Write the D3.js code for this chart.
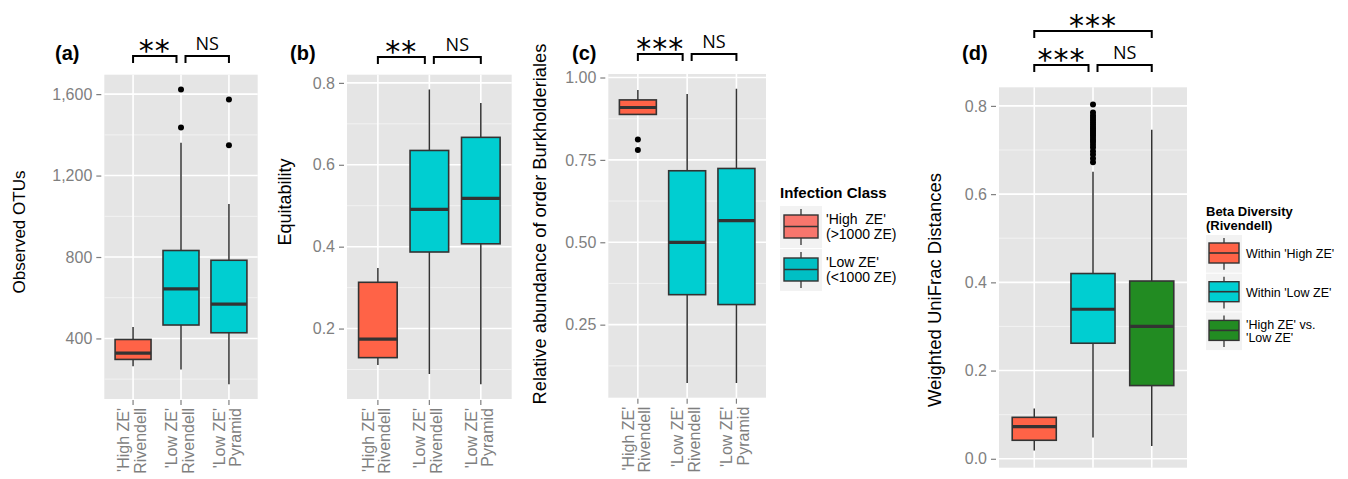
<!doctype html>
<html>
<head>
<meta charset="utf-8">
<script src="https://cdn.jsdelivr.net/npm/d3@7"></script>
<style>
  body { margin: 0; background: #fff; }
  svg { display: block; font-family: "Liberation Sans", Arial, sans-serif; }
</style>
</head>
<body>
<svg id="chart" width="1348" height="479"></svg>
<script>
// categories
const sites = [["'High ZE'", "Rivendell"], ["'Low ZE'", "Rivendell"], ["'Low ZE'", "Pyramid"]];
const siteClass = ["high", "low", "low"];
const betaClass = ["high", "low", "cross"];

// box stats: [lower whisker, Q1, median, Q3, upper whisker]
const otuBoxes = [[264, 297, 328, 395, 456], [247, 466, 643, 832, 1361], [175, 428, 569, 784, 1060]];
const otuOutliers = [[], [1436, 1623], [1349, 1574]];
const otuTicks = [400, 800, 1200, 1600];

const equitBoxes = [[0.111, 0.129, 0.174, 0.313, 0.348], [0.089, 0.387, 0.491, 0.635, 0.784], [0.064, 0.407, 0.518, 0.667, 0.751]];
const equitOutliers = [[], [], []];
const equitTicks = [0.2, 0.4, 0.6, 0.8];

const burkBoxes = [[0.887, 0.888, 0.909, 0.932, 0.962], [0.073, 0.341, 0.500, 0.717, 0.950], [0.073, 0.311, 0.566, 0.724, 0.966]];
const burkOutliers = [[0.780, 0.812], [], []];
const burkTicks = [0.25, 0.50, 0.75, 1.00];

const unifracBoxes = [[0.019, 0.042, 0.073, 0.094, 0.114], [0.048, 0.262, 0.339, 0.420, 0.651], [0.029, 0.166, 0.300, 0.403, 0.746]];
const unifracOutliers = [[], [0.672, 0.681, 0.690, 0.697, 0.706, 0.712, 0.718, 0.723, 0.728, 0.733, 0.737, 0.741,
  0.745, 0.749, 0.753, 0.758, 0.763, 0.768, 0.773, 0.778, 0.785, 0.803], []];
const unifracTicks = [0.0, 0.2, 0.4, 0.6, 0.8];

// significance labels
const sigA = [{i: 0, j: 1, text: "**"}, {i: 1, j: 2, text: "NS"}];
const sigB = [{i: 0, j: 1, text: "**"}, {i: 1, j: 2, text: "NS"}];
const sigC = [{i: 0, j: 1, text: "***"}, {i: 1, j: 2, text: "NS"}];
const sigD = [{i: 0, j: 1, text: "***"}, {i: 1, j: 2, text: "NS"}, {i: 0, j: 2, text: "***", upper: true}];

// legends
const infectionLabels = [["'High  ZE'", "(>1000 ZE)"], ["'Low ZE'", "(<1000 ZE)"]];
const infectionColors = ["#F8766D", "#00BFC4"];
const betaLabels = [["Within 'High ZE'"], ["Within 'Low ZE'"], ["'High ZE' vs.", "'Low ZE'"]];

const fill = {high: "#FF6347", low: "#00CED1", cross: "#228B22"};

const panels = [
  {tag: "(a)", title: "Observed OTUs", titleSize: 17, boxes: otuBoxes, outliers: otuOutliers, cls: siteClass,
   ticks: otuTicks, fmt: d3.format(","), labels: sites, sig: sigA,
   x0: 104.3, x1: 257.7, y0: 74.7, y1: 399, titleX: 19, titleY: 232, tagX: 55, bracketY: 56},
  {tag: "(b)", title: "Equitability", titleSize: 18, boxes: equitBoxes, outliers: equitOutliers, cls: siteClass,
   ticks: equitTicks, fmt: d3.format(".1f"), labels: sites, sig: sigB,
   x0: 347, x1: 511.7, y0: 74.7, y1: 399, titleX: 285, titleY: 202, tagX: 290, bracketY: 57},
  {tag: "(c)", title: "Relative abundance of order Burkholderiales", titleSize: 18.3, boxes: burkBoxes, outliers: burkOutliers, cls: siteClass,
   ticks: burkTicks, fmt: d3.format(".2f"), labels: sites, sig: sigC,
   x0: 608.3, x1: 766, y0: 74, y1: 397.7, titleX: 539, titleY: 224, tagX: 572, bracketY: 54},
  {tag: "(d)", title: "Weighted UniFrac Distances", titleSize: 18.5, boxes: unifracBoxes, outliers: unifracOutliers, cls: betaClass,
   ticks: unifracTicks, fmt: d3.format(".1f"), labels: null, sig: sigD,
   x0: 999, x1: 1187, y0: 87.3, y1: 467.7, titleX: 934, titleY: 290, tagX: 962, bracketY: 65, upperY: 31}
];

const svg = d3.select("#chart");

panels.forEach(drawPanel);

drawLegend({x: 780, title: ["Infection Class"], titleY: 198, titleSize: 15, keyTop: 206, keyW: 42, keyH: 42,
  inset: 4, boxTop: 9, boxH: 23, labels: infectionLabels, colors: infectionColors, fontSize: 14, lineH: 15});
drawLegend({x: 1206, title: ["Beta Diversity", "(Rivendell)"], titleY: 216, titleSize: 13, keyTop: 235, keyW: 36, keyH: 37.7,
  inset: 3, boxTop: 8, boxH: 20, labels: betaLabels, colors: betaClass.map((c) => fill[c]), fontSize: 12.5, lineH: 13.5});

function drawPanel(p) {
  const g = svg.append("g");
  const n = p.boxes.length;
  const x = d3.scalePoint().domain(d3.range(n)).range([p.x0, p.x1]).padding(0.6);
  const [lo, hi] = d3.extent(p.boxes.flat().concat(p.outliers.flat()));
  const pad = (hi - lo) * 0.05;
  const y = d3.scaleLinear().domain([lo - pad, hi + pad]).range([p.y1, p.y0]);
  const bw = x.step() * 0.75;

  g.append("rect")
      .attr("x", p.x0).attr("y", p.y0)
      .attr("width", p.x1 - p.x0).attr("height", p.y1 - p.y0)
      .attr("fill", "#E5E5E5");

  const st = p.ticks[1] - p.ticks[0];
  const minor = d3.range(p.ticks[0] - st / 2, hi + pad, st).filter((v) => v > lo - pad);
  g.append("g").selectAll("line").data(minor).join("line")
      .attr("x1", p.x0).attr("x2", p.x1)
      .attr("y1", (d) => y(d)).attr("y2", (d) => y(d))
      .attr("stroke", "#F2F2F2").attr("stroke-width", 1);

  g.append("g").selectAll("line").data(p.ticks).join("line")
      .attr("x1", p.x0).attr("x2", p.x1)
      .attr("y1", (d) => y(d)).attr("y2", (d) => y(d))
      .attr("stroke", "#fff").attr("stroke-width", 1.6);

  g.append("g").selectAll("line").data(d3.range(n)).join("line")
      .attr("x1", (d) => x(d)).attr("x2", (d) => x(d))
      .attr("y1", p.y0).attr("y2", p.y1)
      .attr("stroke", "#fff").attr("stroke-width", 1.6);

  // y axis
  const ax = g.append("g")
      .attr("transform", `translate(${p.x0 - 3},0)`)
      .call(d3.axisLeft(y).tickValues(p.ticks).tickFormat(p.fmt).tickSize(5).tickPadding(4));
  ax.select(".domain").remove();
  ax.selectAll(".tick line").attr("stroke", "#7F7F7F").attr("stroke-width", 1.2);
  ax.selectAll(".tick text")
      .attr("fill", "#7F7F7F")
      .attr("font-size", 16)
      .attr("font-family", "Liberation Sans, Arial, sans-serif");

  // x axis
  if (p.labels) {
    g.append("g").selectAll("line").data(d3.range(n)).join("line")
        .attr("x1", (d) => x(d)).attr("x2", (d) => x(d))
        .attr("y1", p.y1 + 1).attr("y2", p.y1 + 6)
        .attr("stroke", "#7F7F7F").attr("stroke-width", 1.2);
    const lab = g.append("g").selectAll("text").data(p.labels).join("text")
        .attr("transform", (d, i) => `translate(${x(i)},${p.y1 + 9}) rotate(-90)`)
        .attr("text-anchor", "end")
        .attr("fill", "#7F7F7F")
        .attr("font-size", 16);
    lab.selectAll("tspan").data((d) => d).join("tspan")
        .attr("x", 0)
        .attr("y", (d, k) => (k === 0 ? -4 : 12.5))
        .text((d) => d);
  }

  // boxes
  const box = g.append("g").selectAll("g").data(p.boxes).join("g");
  box.append("line")
      .attr("x1", (d, i) => x(i)).attr("x2", (d, i) => x(i))
      .attr("y1", (d) => y(d[0])).attr("y2", (d) => y(d[4]))
      .attr("stroke", "#333").attr("stroke-width", 1.5);
  box.append("rect")
      .attr("x", (d, i) => x(i) - bw / 2).attr("width", bw)
      .attr("y", (d) => y(d[3])).attr("height", (d) => y(d[1]) - y(d[3]))
      .attr("fill", (d, i) => fill[p.cls[i]])
      .attr("stroke", "#333").attr("stroke-width", 1.6);
  box.append("line")
      .attr("x1", (d, i) => x(i) - bw / 2).attr("x2", (d, i) => x(i) + bw / 2)
      .attr("y1", (d) => y(d[2])).attr("y2", (d) => y(d[2]))
      .attr("stroke", "#333").attr("stroke-width", 3.2);

  const pts = p.outliers.flatMap((vals, i) => vals.map((v) => ({i, v})));
  g.append("g").selectAll("circle").data(pts).join("circle")
      .attr("cx", (d) => x(d.i)).attr("cy", (d) => y(d.v))
      .attr("r", 3).attr("fill", "#000");

  // titles
  g.append("text")
      .attr("transform", `translate(${p.titleX},${p.titleY}) rotate(-90)`)
      .attr("text-anchor", "middle")
      .attr("dominant-baseline", "central")
      .attr("font-size", p.titleSize)
      .attr("fill", "#000")
      .text(p.title);
  g.append("text")
      .attr("x", p.tagX).attr("y", 60)
      .attr("font-size", 20).attr("font-weight", "bold")
      .text(p.tag);

  // significance brackets
  const inward = (k) => (k === 1 ? 4.5 : 0);
  p.sig.forEach((s) => {
    const top = s.upper ? p.upperY : p.bracketY;
    const xa = x(s.i) + inward(s.i);
    const xb = x(s.j) - inward(s.j);
    g.append("path")
        .attr("d", `M${xa},${top + 7}V${top}H${xb}V${top + 7}`)
        .attr("fill", "none").attr("stroke", "#000").attr("stroke-width", 2);
    const star = s.text.startsWith("*");
    g.append("text")
        .attr("x", (xa + xb) / 2)
        .attr("y", star ? top + 5 : top - 6)
        .attr("text-anchor", "middle")
        .attr("font-family", star ? "DejaVu Sans" : "Open Sans")
        .attr("font-size", star ? 30 : 18)
        .attr("letter-spacing", star ? 1 : 0)
        .text(s.text);
  });
}

function drawLegend(o) {
  const g = svg.append("g");
  g.selectAll(".lt").data(o.title).join("text")
      .attr("x", o.x).attr("y", (d, i) => o.titleY + i * 14)
      .attr("font-size", o.titleSize).attr("font-weight", "bold")
      .text((d) => d);
  const key = g.selectAll(".key").data(o.labels).join("g")
      .attr("transform", (d, i) => `translate(${o.x},${o.keyTop + i * (o.keyH + 1)})`);
  key.append("rect")
      .attr("width", o.keyW).attr("height", o.keyH).attr("fill", "#F2F2F2");
  key.append("line")
      .attr("x1", o.keyW / 2).attr("x2", o.keyW / 2)
      .attr("y1", 3).attr("y2", o.keyH - 3)
      .attr("stroke", "#333").attr("stroke-width", 1.3);
  key.append("rect")
      .attr("x", o.inset).attr("y", o.boxTop)
      .attr("width", o.keyW - 2 * o.inset).attr("height", o.boxH)
      .attr("fill", (d, i) => o.colors[i])
      .attr("stroke", "#333").attr("stroke-width", 1.4);
  key.append("line")
      .attr("x1", o.inset).attr("x2", o.keyW - o.inset)
      .attr("y1", o.boxTop + o.boxH / 2).attr("y2", o.boxTop + o.boxH / 2)
      .attr("stroke", "#333").attr("stroke-width", 1.6);
  const t = key.append("text")
      .attr("font-size", o.fontSize)
      .style("white-space", "pre");
  t.selectAll("tspan").data((d) => d.map((s, k) => ({s, k, n: d.length}))).join("tspan")
      .attr("x", o.keyW + 4)
      .attr("y", (d) => o.keyH / 2 + (d.k - (d.n - 1) / 2) * o.lineH + 0.35 * o.fontSize)
      .text((d) => d.s);
}
</script>
</body>
</html>
